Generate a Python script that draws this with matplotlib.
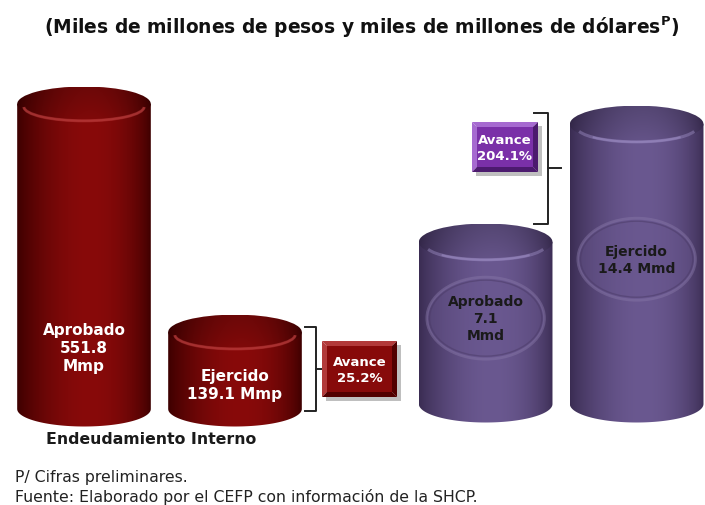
import numpy as np
import matplotlib
matplotlib.use("Agg")
import matplotlib.pyplot as plt
from matplotlib.patches import Polygon, Ellipse, Rectangle, Arc

# data
pesos_labels = ["Aprobado", "Ejercido"]
pesos_vals = [551.8, 139.1]           # miles de millones de pesos
dolares_labels = ["Aprobado", "Ejercido"]
dolares_vals = [7.1, 14.4]            # miles de millones de dolares
avance = [25.2, 204.1]                # %

W, H = 705, 506
fig = plt.figure(figsize=(W / 100, H / 100), dpi=100)
fig.patch.set_facecolor("white")

# main axes (pesos) covers the whole figure; twin axes for dollars
ax = fig.add_axes([0, 0, 1, 1])
ax2 = ax.twinx()
for a in (ax, ax2):
    a.set_axis_off()

# scales: x in category units, pixel = 84 + 151*x
x_lim = ((0 - 84) / 151, (W - 84) / 151)
# pesos: baseline at px 410, 551.8 -> 305 px
kp = 551.8 / 305
yl_p = (-(H - 410) * kp, 410 * kp)
# dolares: baseline at px 405, offset base
base_d = -2.93
kd = 1 / 16.15
yl_d = (base_d - (H - 405) * kd, base_d + 405 * kd)

pos_p = [0, 1]
pos_d = [2.66, 3.66]
width = 0.885


def grad_img(dark, light, nx=200, ny=2, vert=None):
    u = np.linspace(0, 1, nx)
    prof = np.sin(np.pi * u ** 1.15) ** 0.7
    dark = np.array(matplotlib.colors.to_rgb(dark))
    light = np.array(matplotlib.colors.to_rgb(light))
    img = dark + (light - dark) * prof[None, :, None]
    img = np.repeat(img, ny, axis=0)
    if vert is not None:
        v = np.linspace(vert[0], vert[1], ny)[:, None, None]
        img = img * v
    return np.clip(img, 0, 1)


def cylinder(a, xc, y0, y1, w, eh, dark, light, rim):
    t = np.linspace(np.pi, 2 * np.pi, 80)
    xs = np.concatenate([[xc - w / 2], xc + w / 2 * np.cos(t), [xc + w / 2]])
    ys = np.concatenate([[y1], y0 + eh / 2 * np.sin(t), [y1]])
    body = Polygon(np.column_stack([xs, ys]), closed=True,
                   facecolor="none", edgecolor="none")
    a.add_patch(body)
    im = a.imshow(grad_img(dark, light), extent=[xc - w / 2, xc + w / 2, y0 - eh / 2, y1],
                  aspect="auto", origin="lower", zorder=2, interpolation="bilinear")
    im.set_clip_path(body)
    cap = Ellipse((xc, y1), w, eh, facecolor="none", edgecolor="none")
    a.add_patch(cap)
    im2 = a.imshow(grad_img(dark, light, ny=60, vert=(0.95, 0.8)),
                   extent=[xc - w / 2, xc + w / 2, y1 - eh / 2, y1 + eh / 2],
                   aspect="auto", origin="lower", zorder=3, interpolation="bilinear")
    im2.set_clip_path(cap)
    # soft highlight along the rounded front edge of the cap
    a.add_patch(Arc((xc, y1 - eh * 0.08), w * 0.9, eh * 0.8, theta1=215, theta2=325,
                    edgecolor=rim, lw=2.2, alpha=0.45, zorder=4))
    a.add_patch(Arc((xc, y1 - eh * 0.08), w * 0.9, eh * 0.8, theta1=245, theta2=295,
                    edgecolor=rim, lw=1.5, alpha=0.5, zorder=4))


# pesos cylinders (dark red)
eh_p = 35 * kp
for x, v in zip(pos_p, pesos_vals):
    cylinder(ax, x, 0, v, width, eh_p, "#3c0000", "#880a0a", "#c04040")

label_y_p = [112, 45]
for x, v, lab, ly in zip(pos_p, pesos_vals, pesos_labels, label_y_p):
    if v > 300:
        s = f"{lab}\n{v:.1f}\nMmp"
    else:
        s = f"{lab}\n{v:.1f} Mmp"
    ax.text(x, ly, s, ha="center", va="center", color="white", fontsize=11,
            fontweight="bold", linespacing=1.25, zorder=6)

# dollar cylinders (purple)
eh_d = 37 * kd
for x, v in zip(pos_d, dolares_vals):
    cylinder(ax2, x, base_d, v, width, eh_d, "#3a2c52", "#6a5890", "#a090c8")

for x, v, lab in zip(pos_d, dolares_vals, dolares_labels):
    mid = (base_d + v) / 2 + 0.3
    ax2.add_patch(Ellipse((x, mid), width * 0.88, 82 * kd, facecolor="#6a5890",
                          edgecolor="#8878a8", lw=2, alpha=0.45, zorder=4))
    ax2.add_patch(Ellipse((x, mid), width * 0.84, 76 * kd, facecolor="none",
                          edgecolor="#4a3a66", lw=1, alpha=0.5, zorder=4))
    s = f"{lab}\n{v:.1f}\nMmd" if v < 10 else f"{lab}\n{v:.1f} Mmd"
    ax2.text(x, mid, s, ha="center", va="center", color="#1a1a1a", fontsize=10,
             fontweight="bold", linespacing=1.3, zorder=6)


def bracket(a, x, y0, y1, arm, tick):
    a.plot([x - arm, x, x, x - arm], [y1, y1, y0, y0], color="#222222", lw=1.4,
           solid_joinstyle="round", zorder=5)
    a.plot([x, x + tick], [(y0 + y1) / 2] * 2, color="#222222", lw=1.4, zorder=5)


bracket(ax, 1.536, -4, pesos_vals[1] + 10, 0.07, 0.045)
bracket(ax2, 3.07, dolares_vals[0] + eh_d / 2, dolares_vals[1] + eh_d * 0.3, 0.09, 0.09)

ax.set_xlim(*x_lim)
ax.set_ylim(*yl_p)
ax2.set_xlim(*x_lim)
ax2.set_ylim(*yl_d)

# overlay for annotation boxes and text in pixel coords
ov = fig.add_axes([0, 0, 1, 1], zorder=5)
ov.set_xlim(0, W)
ov.set_ylim(H, 0)
ov.set_axis_off()
ov.patch.set_alpha(0)


def bevel_box(x0, y0, x1, y1, face, light, dark, text):
    b = 5
    ov.add_patch(Rectangle((x0 + 4, y0 + 4), x1 - x0, y1 - y0, facecolor="#000000",
                           alpha=0.25, edgecolor="none"))
    ov.add_patch(Polygon([(x0, y0), (x1, y0), (x1 - b, y0 + b), (x0 + b, y0 + b)],
                         facecolor=light, edgecolor="none"))
    ov.add_patch(Polygon([(x0, y0), (x0 + b, y0 + b), (x0 + b, y1 - b), (x0, y1)],
                         facecolor=light, edgecolor="none"))
    ov.add_patch(Polygon([(x0, y1), (x0 + b, y1 - b), (x1 - b, y1 - b), (x1, y1)],
                         facecolor=dark, edgecolor="none"))
    ov.add_patch(Polygon([(x1, y0), (x1, y1), (x1 - b, y1 - b), (x1 - b, y0 + b)],
                         facecolor=dark, edgecolor="none"))
    ov.add_patch(Rectangle((x0 + b, y0 + b), x1 - x0 - 2 * b, y1 - y0 - 2 * b,
                           facecolor=face, edgecolor="none"))
    ov.text((x0 + x1) / 2, (y0 + y1) / 2, text, ha="center", va="center",
            color="white", fontsize=9.5, fontweight="bold", linespacing=1.3)


bevel_box(322, 342, 397, 398, "#870a0a", "#b23a3a", "#520000", f"Avance\n{avance[0]:.1f}%")
bevel_box(472, 123, 538, 173, "#7a30a8", "#a66ad0", "#4c1a6e", f"Avance\n{avance[1]:.1f}%")

fig.text(362 / W, 1 - 27 / H,
         r"(Miles de millones de pesos y miles de millones de dólares$^{\mathbf{P}}$)",
         ha="center", va="center", fontsize=13.4, fontweight="bold", color="#111111")
fig.text(151 / W, 1 - 440 / H, "Endeudamiento Interno", ha="center", va="center",
         fontsize=11.3, fontweight="bold", color="#1a1a1a")
fig.text(15 / W, 1 - 478 / H, "P/ Cifras preliminares.", ha="left", va="center",
         fontsize=11.3, color="#222222")
fig.text(15 / W, 1 - 497 / H, "Fuente: Elaborado por el CEFP con información de la SHCP.",
         ha="left", va="center", fontsize=11.3, color="#222222")

fig.savefig("out.png", dpi=100)
